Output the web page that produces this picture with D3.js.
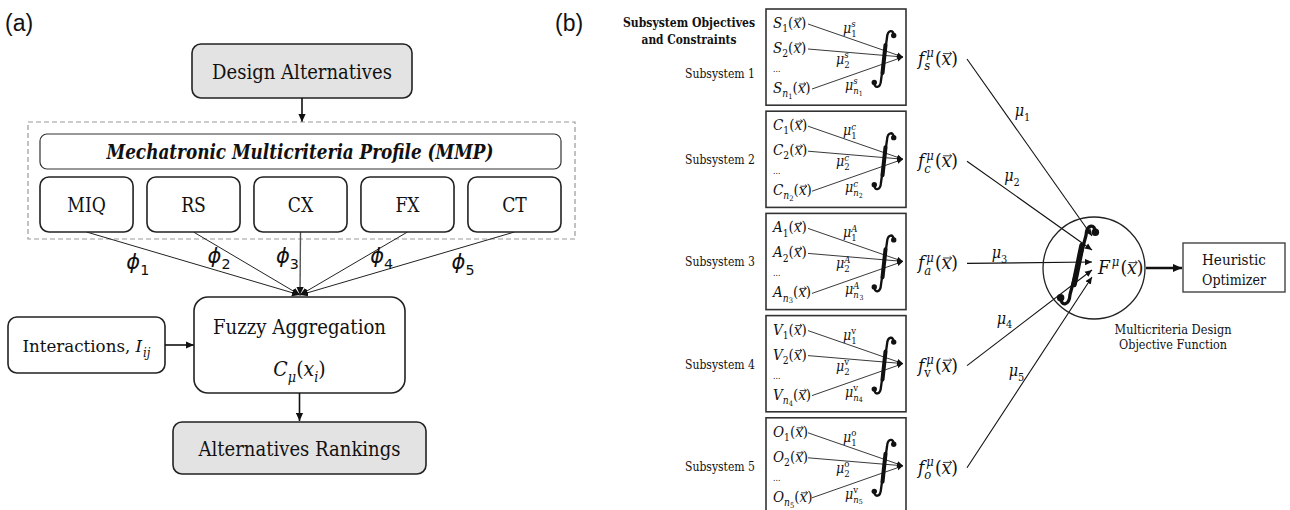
<!DOCTYPE html>
<html>
<head>
<meta charset="utf-8">
<script src="https://cdn.jsdelivr.net/npm/d3@7"></script>
<style>
  html, body { margin: 0; padding: 0; background: #fff; }
  svg { display: block; }
</style>
</head>
<body>
<script>
// ---------------- data ----------------
const criteria = ["MIQ", "RS", "CX", "FX", "CT"];
const phiSubs = ["1", "2", "3", "4", "5"];
const subsystemNames = ["Subsystem 1", "Subsystem 2", "Subsystem 3", "Subsystem 4", "Subsystem 5"];
const fnLetters = ["S", "C", "A", "V", "O"];
const weightSup = ["s", "c", "A", "v", "o"];
const lastWeightSup = ["s", "c", "A", "v", "v"];
const fSubs = ["s", "c", "a", "v", "o"];
const muSubs = ["1", "2", "3", "4", "5"];
const headerLines = ["Subsystem Objectives", "and Constraints"];
const objectiveLines = ["Multicriteria Design", "Objective Function"];
const optimizerLines = ["Heuristic", "Optimizer"];

// ---------------- setup ----------------
const W = 1290, H = 510;
const SERIF = "DejaVu Serif";
const SANS = "Liberation Sans";
const PHI = "DejaVu Sans";
const SIZE_K = 0.92;
const PLAIN_CF = 0.85;
const MATH_CF = 0.9;

const svg = d3.select("body").append("svg").attr("width", W).attr("height", H);
svg.append("rect").attr("width", W).attr("height", H).attr("fill", "#fff");

const defs = svg.append("defs");
function marker(id, size, color) {
  defs.append("marker").attr("id", id)
    .attr("viewBox", "0 0 10 10").attr("refX", 10).attr("refY", 5)
    .attr("markerUnits", "userSpaceOnUse")
    .attr("markerWidth", size).attr("markerHeight", size)
    .attr("orient", "auto")
    .append("path").attr("d", "M0,0.5 L10,5 L0,9.5 z").attr("fill", color);
}
marker("arrA", 8, "#111");
marker("arrS", 6, "#111");
marker("arrB", 7, "#111");
marker("arrT", 9, "#111");

function math(parent, x, y, segs, size, anchor) {
  const g = parent.append("g");
  let cur = 0, prevStart = 0;
  segs.forEach(s => {
    const lvl = s.l || 0;
    const fs = size * (lvl === 0 ? 1 : lvl === 2 ? 0.5 : 0.68);
    const dy = lvl === 1 ? size * 0.28 : lvl === -1 ? -size * 0.4 : lvl === 2 ? size * 0.4 : 0;
    const px = s.stack ? prevStart : cur;
    const t = g.append("text")
      .attr("x", px + (s.dx || 0)).attr("y", dy)
      .style("font-size", fs + "px")
      .style("font-family", s.f || SERIF)
      .style("font-style", s.r ? "normal" : "italic")
      .style("font-weight", s.b ? "bold" : "normal")
      .attr("fill", "#111")
      .text(s.t);
    let w = t.node().getComputedTextLength();
    if (!s.f) {
      w = w * MATH_CF;
      t.attr("textLength", w).attr("lengthAdjust", "spacingAndGlyphs");
    }
    if (s.vec) {
      const ya = dy - fs * 0.6, x0 = px + 1.5, x1 = px + w + 0.5;
      g.append("path")
        .attr("d", `M${x0},${ya} L${x1},${ya} M${x1 - 2},${ya - 1.6} L${x1},${ya} L${x1 - 2},${ya + 1.6}`)
        .attr("fill", "none").attr("stroke", "#111").attr("stroke-width", 0.8);
    }
    if (s.stack) {
      cur = Math.max(cur, px + w + (s.dx || 0));
    } else {
      prevStart = px;
      cur = px + w + (s.dx || 0) + (s.gap || 0);
    }
  });
  const ox = anchor === "middle" ? x - cur / 2 : anchor === "end" ? x - cur : x;
  g.attr("transform", `translate(${ox},${y})`);
  return g;
}

function plainText(parent, x, y, str, size, opts = {}) {
  const serif = !opts.f;
  const t = parent.append("text").attr("x", x).attr("y", y)
    .style("font-family", opts.f || SERIF).style("font-size", (serif ? size * SIZE_K : size) + "px")
    .style("font-weight", opts.b ? "bold" : "normal")
    .style("font-style", opts.i ? "italic" : "normal")
    .attr("text-anchor", opts.anchor || "middle")
    .attr("fill", opts.fill || "#111").text(str);
  if (serif) {
    const w = opts.w || t.node().getComputedTextLength() * PLAIN_CF;
    t.attr("textLength", w).attr("lengthAdjust", "spacingAndGlyphs");
  }
  return t;
}

function integral(parent, cx, cy, h, s) {
  const k = 0.12 * h;
  const p = [
    `M${cx - s / 2 - k},${cy + h / 2 - 0.08 * h}`,
    `C${cx - s / 2 - k},${cy + h / 2 + 0.03 * h} ${cx - s / 2 - 0.01 * h},${cy + h / 2 + 0.03 * h} ${cx - s / 2},${cy + h / 2 - 0.12 * h}`,
    `L${cx + s / 2},${cy - h / 2 + 0.12 * h}`,
    `C${cx + s / 2 + 0.01 * h},${cy - h / 2 - 0.03 * h} ${cx + s / 2 + k},${cy - h / 2 - 0.03 * h} ${cx + s / 2 + k},${cy - h / 2 + 0.08 * h}`
  ].join(" ");
  const g = parent.append("g");
  g.append("path").attr("d", p).attr("fill", "none").attr("stroke", "#111")
    .attr("stroke-width", h * 0.042).attr("stroke-linecap", "round");
  g.append("path")
    .attr("d", `M${cx + s * 0.25},${cy - h * 0.25} L${cx - s * 0.25},${cy + h * 0.25}`)
    .attr("stroke", "#111").attr("stroke-width", h * 0.072).attr("stroke-linecap", "round");
  const r = h * 0.048;
  g.append("circle").attr("cx", cx - s / 2 - k).attr("cy", cy + h / 2 - 0.08 * h).attr("r", r).attr("fill", "#111");
  g.append("circle").attr("cx", cx + s / 2 + k).attr("cy", cy - h / 2 + 0.08 * h).attr("r", r).attr("fill", "#111");
  return g;
}

// ---------------- panel (a) ----------------
const A = svg.append("g");
plainText(A, 5, 31, "(a)", 23, { f: SANS, anchor: "start" });
plainText(svg, 555, 31, "(b)", 23, { f: SANS, anchor: "start" });

const cxA = 300;
A.append("rect").attr("x", 192).attr("y", 44).attr("width", 220).attr("height", 54).attr("rx", 9)
  .attr("fill", "#e3e3e3").attr("stroke", "#222").attr("stroke-width", 1.6);
plainText(A, 302, 79, "Design Alternatives", 22, { w: 180 });
A.append("line").attr("x1", 302).attr("y1", 98).attr("x2", 302).attr("y2", 122)
  .attr("stroke", "#111").attr("stroke-width", 1.6).attr("marker-end", "url(#arrA)");

A.append("rect").attr("x", 28).attr("y", 122).attr("width", 547).attr("height", 117)
  .attr("fill", "none").attr("stroke", "#9a9a9a").attr("stroke-width", 1.2).attr("stroke-dasharray", "5,3");
A.append("rect").attr("x", 40).attr("y", 134).attr("width", 521).attr("height", 35).attr("rx", 7)
  .attr("fill", "#fff").attr("stroke", "#333").attr("stroke-width", 1.2);
plainText(A, 300, 159, "Mechatronic Multicriteria Profile (MMP)", 22, { b: true, i: true, w: 387 });

const xCrit = d3.scaleBand().domain(criteria).range([40, 561]).paddingInner(0.13);
const critTop = 177, critH = 55;
const conv = { x: cxA, y: 295 };

criteria.forEach((c) => {
  const xc = xCrit(c) + xCrit.bandwidth() / 2;
  A.append("line").attr("x1", xc).attr("y1", critTop + critH).attr("x2", conv.x).attr("y2", conv.y)
    .attr("stroke", c === "CX" ? "#555" : "#222").attr("stroke-width", c === "CX" ? 1.4 : 1)
    .attr("marker-end", "url(#arrA)");
});
criteria.forEach((c) => {
  A.append("rect").attr("x", xCrit(c)).attr("y", critTop).attr("width", xCrit.bandwidth()).attr("height", critH)
    .attr("rx", 9).attr("fill", "#fff").attr("stroke", "#222").attr("stroke-width", 1.6);
  plainText(A, xCrit(c) + xCrit.bandwidth() / 2, 212, c, 22);
});

phiSubs.forEach((d, i) => {
  const xc = xCrit(criteria[i]) + xCrit.bandwidth() / 2;
  let lx = xc + (conv.x - xc) * 0.24;
  if (i === 2) lx -= 13;
  const by = (i === 0 || i === 4) ? 269 : 263;
  math(A, lx, by, [
    { t: "\u03D5", f: PHI },
    { t: d, l: 1, r: 1, f: PHI }
  ], 21, "middle");
});

A.append("rect").attr("x", 8).attr("y", 317).attr("width", 157).attr("height", 56).attr("rx", 9)
  .attr("fill", "#fff").attr("stroke", "#222").attr("stroke-width", 1.6);
// single text element with tspans for "Interactions, I_ij"
const inter = A.append("text").attr("x", 86.5).attr("y", 352).attr("text-anchor", "middle")
  .style("font-family", SERIF).style("font-size", "17px").attr("fill", "#111");
inter.append("tspan").text("Interactions,\u00A0");
inter.append("tspan").style("font-style", "italic").text("I");
inter.append("tspan").style("font-style", "italic").style("font-size", "12px").attr("dx", 1).attr("dy", 5).text("ij");
inter.attr("textLength", 128).attr("lengthAdjust", "spacingAndGlyphs");

A.append("line").attr("x1", 165).attr("y1", 345).attr("x2", 194).attr("y2", 345)
  .attr("stroke", "#111").attr("stroke-width", 1.6).attr("marker-end", "url(#arrA)");

A.append("rect").attr("x", 194).attr("y", 297).attr("width", 211).attr("height", 96).attr("rx", 14)
  .attr("fill", "#fff").attr("stroke", "#222").attr("stroke-width", 1.6);
plainText(A, 299.5, 334, "Fuzzy Aggregation", 22, { w: 173 });
math(A, 299.5, 376, [
  { t: "C" }, { t: "\u03BC", l: 1 }, { t: "(", r: 1 }, { t: "x" }, { t: "i", l: 1 }, { t: ")", r: 1 }
], 21, "middle");
A.append("line").attr("x1", 299.5).attr("y1", 393).attr("x2", 299.5).attr("y2", 421)
  .attr("stroke", "#111").attr("stroke-width", 1.6).attr("marker-end", "url(#arrA)");

A.append("rect").attr("x", 173).attr("y", 422).attr("width", 253).attr("height", 52).attr("rx", 9)
  .attr("fill", "#e3e3e3").attr("stroke", "#222").attr("stroke-width", 1.6);
plainText(A, 299.5, 456, "Alternatives Rankings", 22, { w: 202 });

// ---------------- panel (b) ----------------
const B = svg.append("g");
plainText(B, 689, 27, headerLines[0], 13, { b: true, w: 132 });
plainText(B, 689, 44, headerLines[1], 13, { b: true, w: 95 });

const yBox = d3.scaleBand().domain(subsystemNames).range([9, 9 + 5 * 102.2 - 6]).paddingInner(6 / 102.2);
const boxX = 766, boxW = 140;
const bh = yBox.bandwidth();

subsystemNames.forEach((name, i) => {
  const T = yBox(name);
  const mid = T + 48;
  plainText(B, 755, mid + 5 + (i === 0 ? 16 : 0), name, 14, { anchor: "end", w: 70 });

  B.append("rect").attr("x", boxX).attr("y", T).attr("width", boxW).attr("height", bh)
    .attr("fill", "none").attr("stroke", "#333").attr("stroke-width", 1.6);

  const L = fnLetters[i];
  const conv2 = { x: 903, y: T + 48 };
  [[808, T + 15], [808, T + 40], [812, T + 80]].forEach(p => {
    B.append("line").attr("x1", p[0]).attr("y1", p[1]).attr("x2", conv2.x).attr("y2", conv2.y)
      .attr("stroke", "#222").attr("stroke-width", 0.9).attr("marker-end", "url(#arrS)");
  });
  integral(B, 884, T + 50, 56, 6);

  math(B, 773, T + 19, [{ t: L }, { t: "1", l: 1, r: 1 }, { t: "(", r: 1 }, { t: "x", vec: 1 }, { t: ")", r: 1 }], 15, "start");
  math(B, 773, T + 44, [{ t: L }, { t: "2", l: 1, r: 1 }, { t: "(", r: 1 }, { t: "x", vec: 1 }, { t: ")", r: 1 }], 15, "start");
  plainText(B, 773, T + 63, "...", 10, { anchor: "start" });
  math(B, 773, T + 84, [{ t: L }, { t: "n", l: 1 }, { t: muSubs[i], l: 2, r: 1 }, { t: "(", r: 1 }, { t: "x", vec: 1 }, { t: ")", r: 1 }], 15, "start");

  const supR = weightSup[i] === "v" || weightSup[i] === "o";
  math(B, 843, T + 24, [{ t: "\u03BC" }, { t: "1", l: 1, r: 1 }, { t: weightSup[i], l: -1, stack: 1, r: supR }], 14, "start");
  math(B, 836, T + 55, [{ t: "\u03BC" }, { t: "2", l: 1, r: 1 }, { t: weightSup[i], l: -1, stack: 1, r: supR }], 14, "start");
  const supR2 = lastWeightSup[i] === "v";
  math(B, 845, T + 81, [{ t: "\u03BC" }, { t: "n", l: 1 }, { t: lastWeightSup[i], l: -1, stack: 1, r: supR2 }, { t: muSubs[i], l: 2, r: 1 }], 14, "start");

  math(B, 918, mid + 8, [
    { t: "f" },
    { t: "\u03BC", l: -1, dx: 2 },
    { t: fSubs[i], l: 1, stack: 1, r: fSubs[i] === "v" },
    { t: "(", r: 1, dx: 1 },
    { t: "x", vec: 1 },
    { t: ")", r: 1 }
  ], 19, "start");
});

const circ = { x: 1094, y: 268, r: 51 };
const endOffsets = [-32, -18, -6, 2, 9];
const labelT = [0.3, 0.36, 0.26, 0.3, 0.5];
const labelOff = [[18, 0], [0, -16], [0, -9], [0, -17], [-13, 0]];

subsystemNames.forEach((name, i) => {
  const T = yBox(name);
  const x1 = 967, y1 = T + 50, x2 = 1092, y2 = circ.y + endOffsets[i];
  B.append("line").attr("x1", x1).attr("y1", y1).attr("x2", x2).attr("y2", y2)
    .attr("stroke", "#111").attr("stroke-width", 1.1).attr("marker-end", "url(#arrB)");
  const lx = x1 + (x2 - x1) * labelT[i] + labelOff[i][0];
  const ly = y1 + (y2 - y1) * labelT[i] + labelOff[i][1];
  math(B, lx, ly + 4, [{ t: "\u03BC" }, { t: muSubs[i], l: 1, r: 1 }], 16, "middle");
});

B.append("circle").attr("cx", circ.x).attr("cy", circ.y).attr("r", circ.r)
  .attr("fill", "none").attr("stroke", "#222").attr("stroke-width", 1.3);
integral(B, 1078, 265, 78, 16);
math(B, 1098, 274, [{ t: "F" }, { t: "\u03BC", l: -1, dx: 2 }, { t: "(", r: 1, dx: 1 }, { t: "x", vec: 1 }, { t: ")", r: 1 }], 19, "start");

B.append("line").attr("x1", 1146).attr("y1", 268).attr("x2", 1182).attr("y2", 268)
  .attr("stroke", "#111").attr("stroke-width", 2.4).attr("marker-end", "url(#arrT)");
B.append("rect").attr("x", 1183).attr("y", 243).attr("width", 102).attr("height", 49)
  .attr("fill", "#fff").attr("stroke", "#444").attr("stroke-width", 1.4);
plainText(B, 1234, 265, optimizerLines[0], 17, { w: 64 });
plainText(B, 1234, 285, optimizerLines[1], 17, { w: 64 });
plainText(B, 1173, 334, objectiveLines[0], 13, { w: 117 });
plainText(B, 1173, 349, objectiveLines[1], 13, { w: 108 });
</script>
</body>
</html>
